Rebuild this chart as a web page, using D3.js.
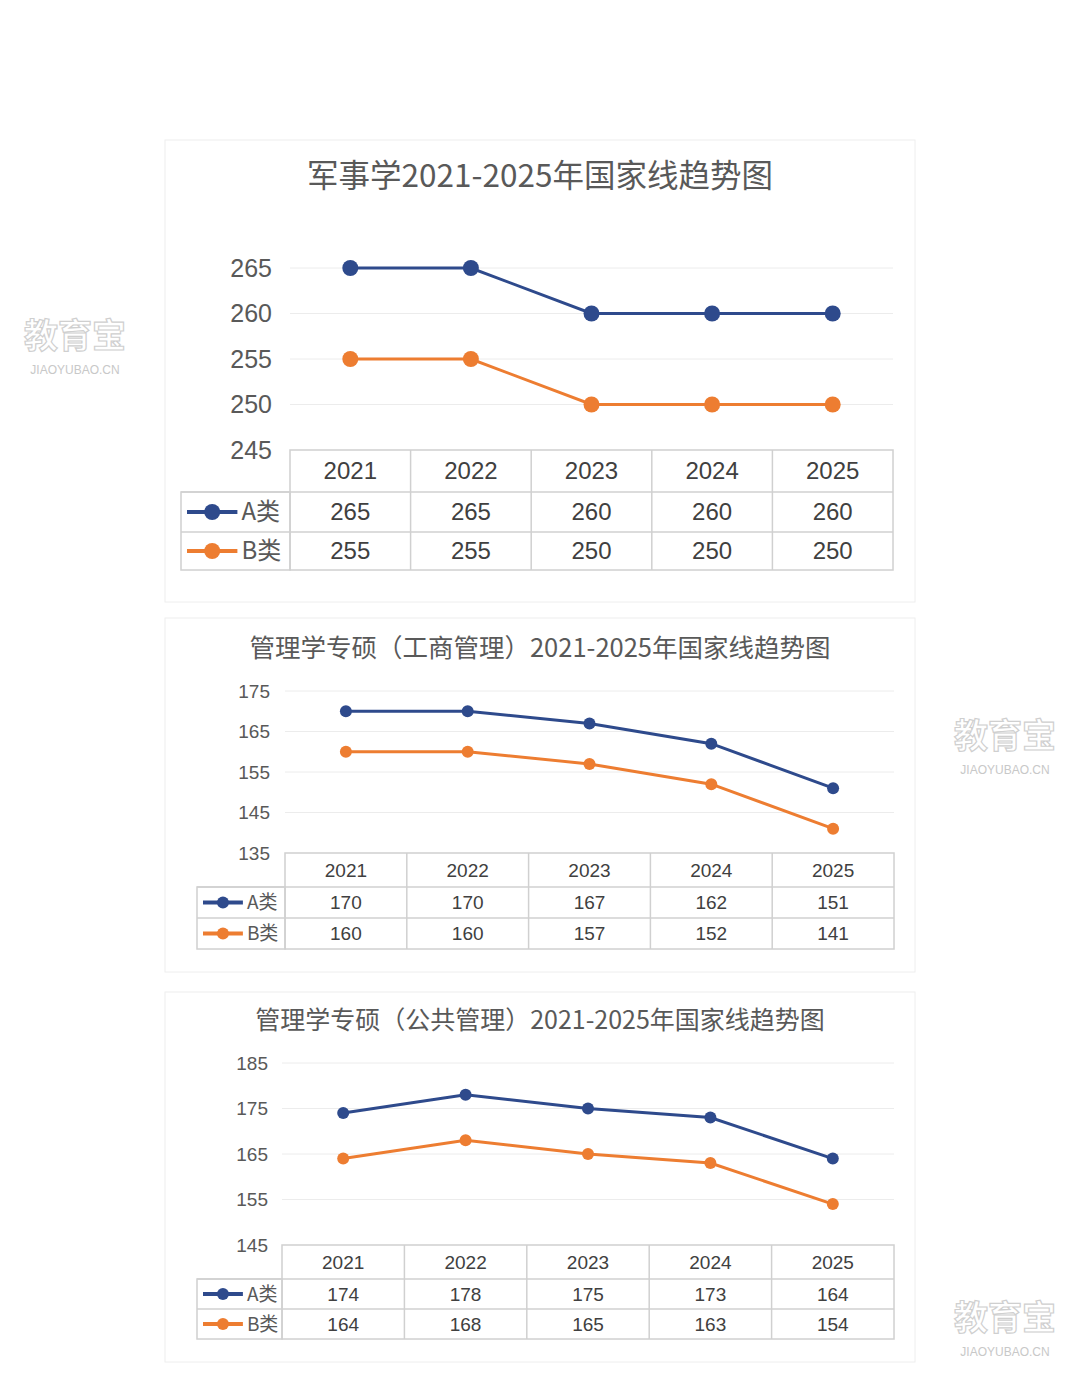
<!DOCTYPE html>
<html><head><meta charset="utf-8">
<script src="https://cdn.jsdelivr.net/npm/d3@7"></script>
<style>body{margin:0;background:#fff;font-family:"Noto Sans CJK SC","Noto Sans",sans-serif}</style>
</head><body>
<svg id="chart" width="1080" height="1383"></svg>
<script>
const years = ['2021', '2022', '2023', '2024', '2025'];
const seriesNames = ['A类', 'B类'];
const titles = ['军事学2021-2025年国家线趋势图', '管理学专硕（工商管理）2021-2025年国家线趋势图', '管理学专硕（公共管理）2021-2025年国家线趋势图'];
const milA = [265, 265, 260, 260, 260];
const milB = [255, 255, 250, 250, 250];
const mbaA = [170, 170, 167, 162, 151];
const mbaB = [160, 160, 157, 152, 141];
const mpaA = [174, 178, 175, 173, 164];
const mpaB = [164, 168, 165, 163, 154];
const ticks1 = [245, 250, 255, 260, 265];
const ticks2 = [135, 145, 155, 165, 175];
const ticks3 = [145, 155, 165, 175, 185];

const colors = ['#2e4a8c', '#ed7d31'];
const svg = d3.select('#chart');

// layout of each panel
const panels = [
  {title: titles[0], a: milA, b: milB, ticks: ticks1, box: [165, 140, 750, 462], titleY: 176, titleSize: 31.5,
   x0: 290, x1: 893, yTop: 268, yBot: 450, leg: 181, rows: [450, 492, 532, 570], font: 24, tickFont: 25, tickX: 272, r: 8, lw: 3},
  {title: titles[1], a: mbaA, b: mbaB, ticks: ticks2, box: [165, 618, 750, 354], titleY: 648, titleSize: 25.5,
   x0: 285, x1: 894, yTop: 691, yBot: 853, leg: 197, rows: [853, 887, 918, 949], font: 19, tickFont: 19, tickX: 270, r: 6, lw: 3},
  {title: titles[2], a: mpaA, b: mpaB, ticks: ticks3, box: [165, 992, 750, 370], titleY: 1020, titleSize: 25,
   x0: 282, x1: 894, yTop: 1063, yBot: 1245, leg: 197, rows: [1245, 1279, 1309, 1339], font: 19, tickFont: 19, tickX: 268, r: 6, lw: 3}
];

panels.forEach(p => {
  const g = svg.append('g');
  g.append('rect').attr('x', p.box[0]).attr('y', p.box[1]).attr('width', p.box[2]).attr('height', p.box[3])
    .attr('fill', '#fff').attr('stroke', '#eeeeee');
  g.append('text').attr('x', 540).attr('y', p.titleY).attr('dy', '0.35em').attr('text-anchor', 'middle')
    .attr('font-size', p.titleSize).attr('fill', '#595959').text(p.title);

  const x = d3.scaleBand().domain(years).range([p.x0, p.x1]);
  const y = d3.scaleLinear().domain(d3.extent(p.ticks)).range([p.yBot, p.yTop]);

  p.ticks.forEach(t => {
    if (t !== p.ticks[0]) g.append('line').attr('x1', p.x0).attr('x2', p.x1).attr('y1', y(t)).attr('y2', y(t))
      .attr('stroke', '#ececec');
    g.append('text').attr('x', p.tickX).attr('y', y(t)).attr('dy', '0.35em').attr('text-anchor', 'end')
      .attr('font-size', p.tickFont).attr('fill', '#595959').attr('font-family', 'Liberation Sans, sans-serif').text(t);
  });

  [p.a, p.b].forEach((vals, i) => {
    const line = d3.line().x((d, j) => x(years[j]) + x.bandwidth() / 2).y(d => y(d));
    g.append('path').datum(vals).attr('d', line).attr('fill', 'none').attr('stroke', colors[i]).attr('stroke-width', p.lw);
    g.selectAll(null).data(vals).enter().append('circle')
      .attr('cx', (d, j) => x(years[j]) + x.bandwidth() / 2).attr('cy', d => y(d)).attr('r', p.r).attr('fill', colors[i]);
  });

  // data table
  const tc = '#d0d0d0';
  const r = p.rows;
  g.append('rect').attr('x', p.x0).attr('y', r[0]).attr('width', p.x1 - p.x0).attr('height', r[3] - r[0]).attr('fill', 'none').attr('stroke', tc).attr('stroke-width', 1.5);
  g.append('rect').attr('x', p.leg).attr('y', r[1]).attr('width', p.x0 - p.leg).attr('height', r[3] - r[1]).attr('fill', 'none').attr('stroke', tc).attr('stroke-width', 1.5);
  [r[1], r[2]].forEach(yy => g.append('line').attr('x1', p.leg).attr('x2', p.x1).attr('y1', yy).attr('y2', yy).attr('stroke', tc).attr('stroke-width', 1.5));
  years.slice(1).forEach(yr => g.append('line').attr('x1', x(yr)).attr('x2', x(yr)).attr('y1', r[0]).attr('y2', r[3]).attr('stroke', tc).attr('stroke-width', 1.5));

  const rowsData = [years, p.a, p.b];
  rowsData.forEach((row, ri) => {
    row.forEach((v, j) => {
      g.append('text').attr('x', x(years[j]) + x.bandwidth() / 2).attr('y', (r[ri] + r[ri + 1]) / 2).attr('dy', '0.35em')
        .attr('text-anchor', 'middle').attr('font-size', p.font).attr('fill', '#404040').attr('font-family', 'Liberation Sans, sans-serif').text(v);
    });
  });
  seriesNames.forEach((n, i) => {
    const cy = (r[i + 1] + r[i + 2]) / 2;
    const lx = p.leg + 6, lw = p.font * 2.1;
    g.append('line').attr('x1', lx).attr('x2', lx + lw).attr('y1', cy).attr('y2', cy).attr('stroke', colors[i]).attr('stroke-width', p.lw + 1);
    g.append('circle').attr('cx', lx + lw / 2).attr('cy', cy).attr('r', p.r).attr('fill', colors[i]);
    g.append('text').attr('x', lx + lw + 4).attr('y', cy).attr('dy', '0.35em').attr('font-size', p.font).attr('fill', '#595959').text(n);
  });
});

// watermarks
[[75, 348, 34], [1005, 748, 34], [1005, 1330, 34]].forEach(([wx, wy, s]) => {
  svg.append('text').attr('x', wx).attr('y', wy).attr('text-anchor', 'middle').attr('font-size', s)
    .attr('font-weight', 'bold').attr('fill', 'none').attr('stroke', '#cfcfcf').attr('stroke-width', 1.2).text('教育宝');
  svg.append('text').attr('x', wx).attr('y', wy + 26).attr('text-anchor', 'middle').attr('font-size', 12)
    .attr('fill', '#c8c8c8').attr('font-family', 'Liberation Sans, sans-serif').text('JIAOYUBAO.CN');
});
</script>
</body></html>
